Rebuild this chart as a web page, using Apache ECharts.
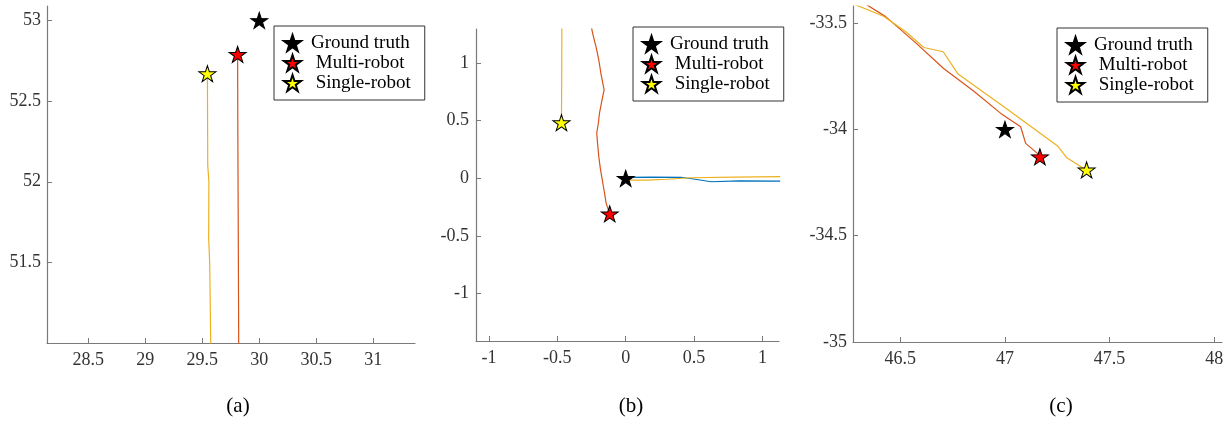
<!DOCTYPE html>
<html>
<head>
<meta charset="utf-8">
<title>Trajectory comparison</title>
<script src="https://cdn.jsdelivr.net/npm/echarts@6/dist/echarts.min.js"></script>
<style>
  html, body { margin: 0; padding: 0; background: #fff; }
  #chart { width: 1230px; height: 422px; }
</style>
</head>
<body>
<div id="chart"></div>
<script>
// ---- data ----
const legendNames = ["Ground truth", "Multi-robot", "Single-robot"];
const captions = ["(a)", "(b)", "(c)"];

// panel (a)
const aXTicks = [28.5, 29, 29.5, 30, 30.5, 31];
const aYTicks = [51.5, 52, 52.5, 53];
const aGround = [[30.0, 53.0]];
const aMulti = [[29.81, 52.79]];
const aSingle = [[29.545, 52.67]];
const aMultiPath = [[29.81, 52.79], [29.812, 52.3], [29.815, 51.8], [29.818, 51.3], [29.82, 50.9]];
const aSinglePath = [[29.545, 52.67], [29.547, 52.3], [29.548, 52.1], [29.558, 52.0], [29.556, 51.65], [29.565, 51.5], [29.576, 50.9]];

// panel (b)
const bXTicks = [-1, -0.5, 0, 0.5, 1];
const bYTicks = [-1, -0.5, 0, 0.5, 1];
const bGround = [[0, 0]];
const bMulti = [[-0.117, -0.308]];
const bSingle = [[-0.47, 0.483]];
const bGroundPath = [[0.027, 0.009], [0.2, 0.01], [0.405, 0.009], [0.52, -0.01], [0.624, -0.03], [0.83, -0.023], [1.13, -0.025]];
const bMultiPath = [[-0.258, 1.35], [-0.24, 1.25], [-0.215, 1.13], [-0.197, 1.027], [-0.18, 0.9], [-0.158, 0.768],
  [-0.17, 0.7], [-0.183, 0.62], [-0.192, 0.565], [-0.2, 0.48], [-0.212, 0.391], [-0.205, 0.29], [-0.197, 0.188],
  [-0.185, 0.08], [-0.172, -0.01], [-0.163, -0.073], [-0.152, -0.15], [-0.143, -0.217], [-0.117, -0.308]];
const bSinglePath = [[-0.467, 1.35], [-0.468, 0.9], [-0.47, 0.483]];
const bSingleRight = [[0.0, 0.0], [0.027, -0.015], [0.159, -0.015], [0.3, -0.008], [0.478, 0.005], [0.8, 0.01], [1.13, 0.014]];

// panel (c)
const cXTicks = [46.5, 47, 47.5, 48];
const cYTicks = [-35, -34.5, -34, -33.5];
const cGround = [[47.0, -34.0]];
const cMulti = [[47.167, -34.129]];
const cSingle = [[47.39, -34.191]];
const cMultiPath = [[46.3, -33.39], [46.43, -33.47], [46.57, -33.59], [46.707, -33.714], [46.85, -33.82], [46.98, -33.925],
  [47.075, -33.988], [47.099, -34.066], [47.155, -34.113], [47.167, -34.129]];
const cSinglePath = [[46.25, -33.4], [46.42, -33.468], [46.525, -33.54], [46.612, -33.615], [46.705, -33.635], [46.776, -33.74],
  [46.995, -33.894], [47.25, -34.077], [47.294, -34.132], [47.376, -34.184], [47.39, -34.191]];

// ---- styles ----
const serif = "Liberation Serif";
const axisGrey = "#7a7a7a";
const colGround = "#0072BD";
const colMulti = "#D95319";
const colSingle = "#EDB120";
const star = "path://M50 0 L61.2 34.5 L97.6 34.5 L68.2 55.9 L79.4 90.5 L50 69.1 L20.6 90.5 L31.8 55.9 L2.4 34.5 L38.8 34.5 Z";

function makeAxis(idx, min, max, ticks, margin) {
  return {
    type: "value", gridIndex: idx, min: min, max: max,
    axisLine: { onZero: false, lineStyle: { color: axisGrey, width: 1.2 } },
    axisTick: { inside: true, length: 5, customValues: ticks, lineStyle: { color: axisGrey } },
    axisLabel: { customValues: ticks, margin: margin, color: "#333", fontFamily: serif, fontSize: 18 },
    splitLine: { show: false },
  };
}

function path(idx, data, color) {
  return {
    type: "line", xAxisIndex: idx, yAxisIndex: idx, data: data,
    showSymbol: false, symbol: "none", z: 2,
    lineStyle: { color: color, width: 1.2 },
    emphasis: { disabled: true }, silent: true,
  };
}

function stars(idx, name, data, color) {
  return {
    type: "scatter", name: name, xAxisIndex: idx, yAxisIndex: idx, data: data,
    symbol: star, symbolSize: [17, 16], z: 5,
    itemStyle: { color: color, borderColor: "#000", borderWidth: 1, opacity: 1 },
    silent: true,
  };
}

function legendAt(left, top) {
  return {
    data: legendNames, orient: "vertical", left: left, top: top,
    padding: [7, 14, 7, 9], itemGap: 0, itemWidth: 17, itemHeight: 17,
    borderColor: "#333", borderWidth: 1, backgroundColor: "#fff",
    selectedMode: false,
    formatter: function (name) { return name === "Ground truth" ? name : " " + name; },
    textStyle: { fontFamily: serif, fontSize: 19, color: "#000", lineHeight: 20, padding: [0, 0, 0, 5] },
  };
}

function caption(text, x) {
  return {
    text: text, left: x, top: 391, textAlign: "center",
    textStyle: { fontFamily: serif, fontSize: 21, fontWeight: "normal", color: "#000" },
  };
}

let myChart = echarts.init(document.getElementById("chart"));

let option = {
  animation: false,
  backgroundColor: "#fff",
  title: [caption(captions[0], 233), caption(captions[1], 626), caption(captions[2], 1056)],
  legend: [legendAt(274, 26), legendAt(633, 27), legendAt(1057, 28)],
  grid: [
    { left: 47, top: 6, width: 368, height: 337 },
    { left: 476, top: 29, width: 303, height: 312 },
    { left: 853, top: 6, width: 369, height: 336 },
  ],
  xAxis: [
    makeAxis(0, 28.138, 31.366, aXTicks, 8),
    makeAxis(1, -1.095, 1.121, bXTicks, 8),
    makeAxis(2, 46.274, 48.037, cXTicks, 8),
  ],
  yAxis: [
    makeAxis(0, 51.0, 53.09, aYTicks, 6),
    makeAxis(1, -1.412, 1.296, bYTicks, 7),
    makeAxis(2, -35, -33.42, cYTicks, 6),
  ],
  series: [
    path(0, aMultiPath, colMulti),
    path(0, aSinglePath, colSingle),
    stars(0, legendNames[0], aGround, "#000"),
    stars(0, legendNames[1], aMulti, "#ff0000"),
    stars(0, legendNames[2], aSingle, "#ffff00"),

    path(1, bGroundPath, colGround),
    path(1, bSingleRight, colSingle),
    path(1, bMultiPath, colMulti),
    path(1, bSinglePath, colSingle),
    stars(1, legendNames[0], bGround, "#000"),
    stars(1, legendNames[1], bMulti, "#ff0000"),
    stars(1, legendNames[2], bSingle, "#ffff00"),

    path(2, cMultiPath, colMulti),
    path(2, cSinglePath, colSingle),
    stars(2, legendNames[0], cGround, "#000"),
    stars(2, legendNames[1], cMulti, "#ff0000"),
    stars(2, legendNames[2], cSingle, "#ffff00"),
  ],
};

myChart.setOption(option);

window.addEventListener("resize", function () {
  myChart.resize();
});
</script>
</body>
</html>
